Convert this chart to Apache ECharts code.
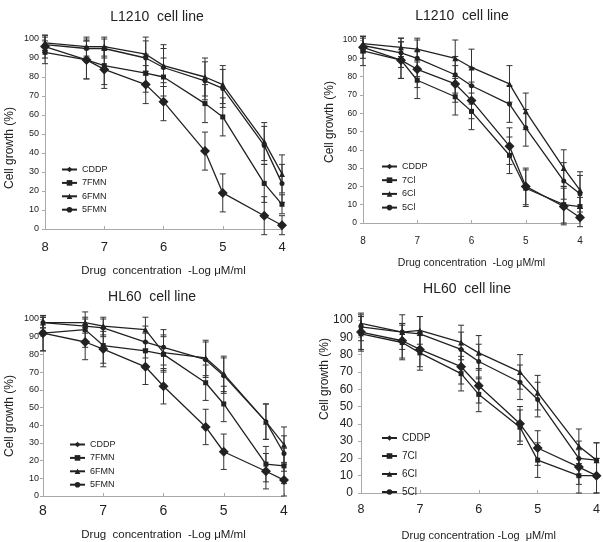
<!DOCTYPE html>
<html>
<head>
<meta charset="utf-8">
<script src="https://cdn.jsdelivr.net/npm/echarts@6/dist/echarts.min.js"></script>
<style>
  html, body { margin: 0; padding: 0; background: #fff; }
  #chart { width: 603px; height: 542px; }
</style>
</head>
<body>
<div id="chart"></div>
<script>
// -log concentration, same for all panels
const xs = [8, 7.3, 7, 6.3, 6, 5.3, 5, 4.3, 4]

// L1210, FMN compounds
const cddpA = [96, 89, 84, 76, 67, 41, 19, 7, 2]
const fmn7A = [93, 89, 86, 82, 80, 66, 59, 24, 13]
const fmn6A = [98, 96, 96, 92, 86, 80, 76, 46, 29]
const fmn5A = [97, 95, 95, 90, 85, 78, 74, 44, 24]
const errCddpA = [6, 10, 10, 10, 10, 10, 10, 10, 5]
const errFmn7A = [6, 10, 10, 10, 10, 10, 10, 10, 5]
const errFmn6A = [4, 5, 5, 9, 11, 10, 10, 10, 10]
const errFmn5A = [4, 5, 5, 9, 10, 10, 10, 10, 10]

// L1210, Cl compounds
const cddpB = [96, 89, 84, 76, 67, 42, 20, 9, 3]
const cl7B = [94, 89, 78, 69, 61, 37, 19, 10, 9]
const cl6B = [98, 96, 95, 90, 85, 76, 61, 30, 18]
const cl5B = [97, 93, 90, 81, 75, 65, 52, 23, 16]
const errCddpB = [6, 10, 10, 10, 10, 10, 10, 10, 5]
const errCl7B = [8, 10, 10, 10, 10, 10, 10, 10, 5]
const errCl6B = [4, 5, 6, 10, 10, 10, 10, 10, 10]
const errCl5B = [4, 8, 10, 10, 10, 10, 10, 10, 10]

// HL60, FMN compounds
const cddpC = [92, 87, 83, 73, 62, 39, 25, 14, 9]
const fmn7C = [92, 94, 85, 82, 80, 64, 52, 18, 17]
const fmn6C = [98, 98, 96, 94, 81, 78, 69, 42, 29]
const fmn5C = [98, 96, 95, 87, 84, 77, 68, 42, 24]
const errCddpC = [10, 10, 10, 10, 10, 10, 10, 10, 9]
const errFmn7C = [10, 10, 10, 10, 10, 10, 10, 10, 10]
const errFmn6C = [3, 3, 5, 7, 10, 10, 10, 10, 10]
const errFmn5C = [3, 4, 5, 9, 10, 10, 10, 10, 10]

// HL60, Cl compounds
const cddpD = [93, 88, 83, 73, 62, 40, 26, 15, 10]
const cl7D = [92, 87, 81, 69, 57, 38, 19, 10, 10]
const cl6D = [98, 93, 94, 87, 81, 70, 58, 27, 19]
const cl5D = [96, 93, 92, 83, 76, 64, 54, 20, 19]
const errCddpD = [10, 10, 10, 10, 10, 10, 10, 10, 10]
const errCl7D = [10, 10, 10, 10, 10, 10, 10, 10, 10]
const errCl6D = [4, 5, 8, 10, 10, 10, 10, 10, 10]
const errCl5D = [8, 10, 10, 10, 10, 10, 10, 10, 10]

const titles = ['L1210  cell line', 'L1210  cell line', 'HL60  cell line', 'HL60  cell line']
const fmnNames = ['CDDP', '7FMN', '6FMN', '5FMN']
const clNames = ['CDDP', '7Cl', '6Cl', '5Cl']

const font = 'Liberation Sans, Arial, sans-serif'
const ink = '#222'
const symbols = [['diamond', 10], ['rect', 5], ['triangle', 6], ['circle', 5]]

const panels = [
  { names: fmnNames, vals: [cddpA, fmn7A, fmn6A, fmn5A], errs: [errCddpA, errFmn7A, errFmn6A, errFmn5A],
    grid: { left: 45, right: 321, top: 39, bottom: 313 }, yFont: 9, yMargin: 6, xFont: 13, xMargin: 12,
    xName: 'Drug  concentration  -Log μM/ml', xNameFont: 11.5, xNameGap: 36,
    title: [157, 17], yTitle: [10, 148], legend: { left: 56, top: 160, itemGap: 4.4, fontSize: 9 } },
  { names: clNames, vals: [cddpB, cl7B, cl6B, cl5B], errs: [errCddpB, errCl7B, errCl6B, errCl5B],
    grid: { left: 363, right: 23, top: 40, bottom: 319 }, yFont: 8.5, yMargin: 6, xFont: 10, xMargin: 13,
    xName: 'Drug concentration  -Log μM/ml', xNameFont: 10.5, xNameGap: 35,
    title: [462, 16], yTitle: [330, 122], legend: { left: 376, top: 157, itemGap: 4.7, fontSize: 9 } },
  { names: fmnNames, vals: [cddpC, fmn7C, fmn6C, fmn5C], errs: [errCddpC, errFmn7C, errFmn6C, errFmn5C],
    grid: { left: 43, right: 319, top: 319, bottom: 37 }, yFont: 9, yMargin: 4, xFont: 14, xMargin: 8,
    xName: 'Drug  concentration  -Log μM/ml', xNameFont: 11.5, xNameGap: 33,
    title: [152, 297], yTitle: [10, 416], legend: { left: 64, top: 435, itemGap: 4.4, fontSize: 9 } },
  { names: clNames, vals: [cddpD, cl7D, cl6D, cl5D], errs: [errCddpD, errCl7D, errCl6D, errCl5D],
    grid: { left: 361, right: 5, top: 320, bottom: 41 }, yFont: 12, yMargin: 8, xFont: 12.5, xMargin: 10,
    xName: 'Drug concentration -Log  μM/ml', xNameFont: 11, xNameGap: 37,
    title: [467, 289], yTitle: [325, 379], legend: { left: 376, top: 428, itemGap: 8, fontSize: 10 } }
]

function errorBar(params, api) {
  const x = api.value(0)
  const top = api.coord([x, api.value(2)])
  const bot = api.coord([x, api.value(1)])
  const w = 3
  const st = { stroke: '#333', lineWidth: 1 }
  return {
    type: 'group',
    children: [
      { type: 'line', shape: { x1: top[0], y1: top[1], x2: bot[0], y2: bot[1] }, style: st },
      { type: 'line', shape: { x1: top[0] - w, y1: top[1], x2: top[0] + w, y2: top[1] }, style: st },
      { type: 'line', shape: { x1: bot[0] - w, y1: bot[1], x2: bot[0] + w, y2: bot[1] }, style: st }
    ]
  }
}

const option = {
  animation: false,
  backgroundColor: '#fff',
  grid: [],
  xAxis: [],
  yAxis: [],
  legend: [],
  series: [],
  graphic: []
}

panels.forEach((p, gi) => {
  option.grid.push(p.grid)
  option.xAxis.push({
    gridIndex: gi, type: 'value', min: 4, max: 8, interval: 1, inverse: true,
    name: p.xName, nameLocation: 'middle', nameGap: p.xNameGap,
    nameTextStyle: { fontFamily: font, fontSize: p.xNameFont, color: ink },
    axisLine: { lineStyle: { color: '#aaa', width: 1 } },
    axisTick: { inside: true, length: 3, lineStyle: { color: '#aaa' } },
    axisLabel: { fontFamily: font, fontSize: p.xFont, color: ink, margin: p.xMargin },
    splitLine: { show: false }
  })
  option.yAxis.push({
    gridIndex: gi, type: 'value', min: 0, max: 100, interval: 10,
    axisLine: { show: true, lineStyle: { color: '#aaa', width: 1 } },
    axisTick: { show: true, length: 3, lineStyle: { color: '#aaa' } },
    axisLabel: { fontFamily: font, fontSize: p.yFont, color: ink, margin: p.yMargin },
    splitLine: { show: false }
  })
  option.legend.push({
    orient: 'vertical', left: p.legend.left, top: p.legend.top,
    itemWidth: 15, itemHeight: 7, itemGap: p.legend.itemGap,
    data: p.names, selectedMode: false,
    textStyle: { fontFamily: font, fontSize: p.legend.fontSize, color: ink }
  })
  p.vals.forEach((vals, si) => {
    option.series.push({
      name: p.names[si], type: 'line', xAxisIndex: gi, yAxisIndex: gi,
      symbol: symbols[si][0], symbolSize: symbols[si][1],
      lineStyle: { color: ink, width: 1.3 },
      itemStyle: { color: ink },
      data: xs.map((x, i) => [x, vals[i]]),
      z: 3
    })
    option.series.push({
      type: 'custom', xAxisIndex: gi, yAxisIndex: gi,
      renderItem: errorBar,
      encode: { x: 0, y: [1, 2] },
      data: xs.map((x, i) => [x, vals[i] - p.errs[si][i], vals[i] + p.errs[si][i]]),
      silent: true, z: 2
    })
  })
  option.graphic.push({
    type: 'text', x: p.title[0], y: p.title[1],
    style: { text: titles[gi], font: '14px ' + font, fill: ink, textAlign: 'center', textVerticalAlign: 'middle' }
  })
  option.graphic.push({
    type: 'text', x: p.yTitle[0], y: p.yTitle[1], rotation: Math.PI / 2,
    style: { text: 'Cell growth (%)', font: '12px ' + font, fill: ink, textAlign: 'center', textVerticalAlign: 'middle' }
  })
})

const chart = echarts.init(document.getElementById('chart'))
chart.setOption(option)
</script>
</body>
</html>
